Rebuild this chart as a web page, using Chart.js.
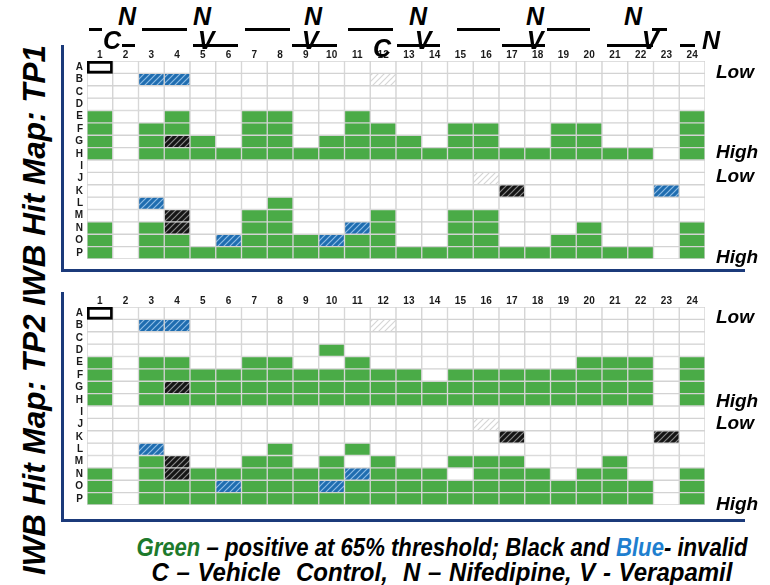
<!DOCTYPE html>
<html>
<head>
<meta charset="utf-8">
<script src="https://cdn.jsdelivr.net/npm/chart.js@4.4.1/dist/chart.umd.min.js"></script>
<style>
  html, body { margin: 0; padding: 0; background: #fff; }
  #page { position: relative; width: 770px; height: 585px; overflow: hidden;
          font-family: "Liberation Sans", Arial, Helvetica, sans-serif; }
  canvas { position: absolute; }
  .t { position: absolute; font-weight: bold; font-style: italic; color: #000;
       white-space: nowrap; line-height: 1; }
  .treat { font-size: 25px; width: 40px; text-align: center; }
  .rule { position: absolute; height: 3px; background: #000; }
  .lvl { font-size: 19px; left: 716px; }
  .frame { position: absolute; box-sizing: border-box;
           border-left: 3px solid #1b3a7a; border-bottom: 3px solid #1b3a7a; }
  #title { font-size: 31.5px; left: 35px; top: 310px;
           transform: translate(-50%, -50%) rotate(-90deg); }
  .legend { position: absolute; left: 0; width: 884px; text-align: center;
            font-weight: bold; font-style: italic; font-size: 25px; line-height: 1;
            white-space: nowrap; transform-origin: 442px 50%; }
  #leg1 { top: 535px; transform: scaleX(0.885); }
  #leg2 { top: 560px; transform: scaleX(0.96); word-spacing: 1px; }
</style>
</head>
<body>
<div id="page">
  <div class="frame" style="left:61px;top:45px;width:684px;height:227px"></div>
  <div class="frame" style="left:61px;top:292px;width:684px;height:230px"></div>
  <canvas id="tp1" width="645" height="215" style="left:60px;top:44px"></canvas>
  <canvas id="tp2" width="645" height="215" style="left:60px;top:290px"></canvas>
  <div id="title" class="t">IWB Hit Map: TP2 IWB Hit Map: TP1</div>
  <div id="leg1" class="legend"><span style="color:#1d7a2c">Green</span> – positive at 65% threshold; Black and <span style="color:#1f7fcf">Blue</span>- invalid</div>
  <div id="leg2" class="legend">C – Vehicle&nbsp; Control,&nbsp; N – Nifedipine, V - Verapamil</div>
</div>
<script>
// Plate layout: 16 rows (A–P) x 24 columns (1–24)
const columns = Array.from({ length: 24 }, (_, i) => String(i + 1));
const rows = ['A','B','C','D','E','F','G','H','I','J','K','L','M','N','O','P'];

// Well calls, one string per row, one character per column:
//   .  no hit        g  positive at 65% threshold
//   k  invalid (black)   b  invalid (blue)
//   x  excluded (faint)  o  control well (outlined)
const tp1 = [
  'o.......................',
  '..bb.......x............',
  '........................',
  '........................',
  'g..g..gg..g............g',
  'g.gg..gg..gg..gg..gg...g',
  'g.gkg.gg.gggg.gg..gg...g',
  'g.gggggggggggggggggggg.g',
  '........................',
  '...............x........',
  '................k.....b.',
  '..b....g................',
  '...k..gg...g..gg........',
  'g.gk..gg..bg..gg...g...g',
  'g.gg.bgggbgg..gg..gg...g',
  'g.gggggggggggggggggggg.g'
];
const tp2 = [
  'o.......................',
  '..bb.......x............',
  '........................',
  '.........g..............',
  'g.gg..gg..g........ggg.g',
  'g.ggggggggggg.gggggggg.g',
  'g.gkgggggggggggggggggg.g',
  'g.gggggggggggggggggggg.g',
  '........................',
  '...............x........',
  '................k.....k.',
  '..b....g..g.............',
  '..gk..gg.g.g..ggg...g...',
  'g.gkggggggbggg.ggg.gg..g',
  'g.gggbgggbgggggggggggg.g',
  'g.gggggggggggggggggggg.g'
];

// Treatment bands above the plates
const treatmentTop = [['N',127],['N',202],['N',313],['N',418],['N',535],['N',633]];
const treatmentLow = [['C',112,31],['V',206,31],['V',310,31],['C',382,39],['V',423,31],['V',535,31],['V',650,31],['N',711,31]];
const rulesUpper = [[89,102],[142,187],[245,290],[348,393],[457,500],[547,590],[652,667]];
const rulesLower = [[122,135],[193,238],[292,337],[397,440],[502,545],[607,653],[680,695]];
// Signal level markers on the right (vertical centre of text)
const levels = [['Low',71],['High',151],['Low',175],['High',256],['Low',316],['High',400],['Low',422],['High',503]];

const page = document.getElementById('page');
function addText(cls, txt, left, top) {
  const d = document.createElement('div');
  d.className = 't ' + cls;
  d.textContent = txt;
  d.style.left = left + 'px';
  d.style.top = top + 'px';
  page.appendChild(d);
}
treatmentTop.forEach(([s, cx]) => addText('treat', s, cx - 20, 7 - 3.3));
treatmentLow.forEach(([s, cx, cy]) => addText('treat', s, cx - 20, cy - 3.3));
function addRule(x1, x2, y) {
  const d = document.createElement('div');
  d.className = 'rule';
  d.style.left = x1 + 'px';
  d.style.width = (x2 - x1) + 'px';
  d.style.top = (y - 1.5) + 'px';
  page.appendChild(d);
}
rulesUpper.forEach(([a, b]) => addRule(a, b, 29));
rulesLower.forEach(([a, b]) => addRule(a, b, 45));
levels.forEach(([s, cy]) => addText('lvl', s, 716, cy - 9.3));

// Hatched fills for invalid / excluded wells
function hatch(base, stripe, w) {
  const c = document.createElement('canvas');
  c.width = c.height = 6;
  const g = c.getContext('2d');
  g.fillStyle = base;
  g.fillRect(0, 0, 6, 6);
  g.strokeStyle = stripe;
  g.lineWidth = w;
  g.beginPath();
  g.moveTo(-1, 7); g.lineTo(7, -1);
  g.moveTo(-1, 1); g.lineTo(1, -1);
  g.moveTo(5, 7); g.lineTo(7, 5);
  g.stroke();
  return g.createPattern(c, 'repeat');
}
const GREEN = '#4aab47';
const GRID = '#d3d3d3';
const fills = {
  '.': '#ffffff',
  'o': '#ffffff',
  'g': GREEN,
  'k': hatch('#151515', '#8a8a8a', 1.2),
  'b': hatch('#1f6db0', '#8fbde6', 1.2),
  'x': hatch('#ffffff', '#d6d6d6', 1.2)
};

function drawPlate(id, calls) {
  const datasets = rows.map((r, i) => ({
    label: r,
    data: columns.map(() => [i, i + 1]),
    backgroundColor: ctx => fills[calls[ctx.datasetIndex][ctx.dataIndex]],
    borderColor: ctx => calls[ctx.datasetIndex][ctx.dataIndex] === 'o' ? '#000' : GRID,
    borderWidth: ctx => calls[ctx.datasetIndex][ctx.dataIndex] === 'o' ? 3 : 1,
    borderSkipped: false,
    barPercentage: 1,
    categoryPercentage: 1,
    grouped: false
  }));
  const tickFont = { family: '"Liberation Sans", Arial, sans-serif', size: 10, weight: 'bold' };
  // fixed axis sizes, and no extra edge padding for the tick labels
  const fixX = s => { s.height = 17; s.paddingLeft = 0; s.paddingRight = 0; s.paddingTop = 0; s.paddingBottom = 0; };
  const fixY = s => { s.width = 27; s.paddingLeft = 0; s.paddingRight = 0; s.paddingTop = 0; s.paddingBottom = 0; };
  return new Chart(document.getElementById(id), {
    type: 'bar',
    data: { labels: columns, datasets },
    options: {
      responsive: false,
      animation: false,
      events: [],
      layout: { padding: 0 },
      plugins: { legend: { display: false }, tooltip: { enabled: false } },
      scales: {
        x: {
          type: 'category',
          position: 'top',
          offset: true,
          grid: { display: false, drawTicks: false },
          border: { display: false },
          ticks: { font: tickFont, color: '#1a1a1a', padding: 0, maxRotation: 0, autoSkip: false },
          afterFit: fixX
        },
        y: {
          type: 'linear',
          min: 0, max: 16,
          reverse: true,
          display: false
        },
        rowAxis: {
          type: 'category',
          labels: rows,
          position: 'left',
          offset: true,
          grid: { display: false, drawTicks: false },
          border: { display: false },
          ticks: { font: tickFont, color: '#1a1a1a', padding: 4, autoSkip: false },
          afterFit: fixY
        }
      }
    }
  });
}
drawPlate('tp1', tp1);
drawPlate('tp2', tp2);
</script>
</body>
</html>
